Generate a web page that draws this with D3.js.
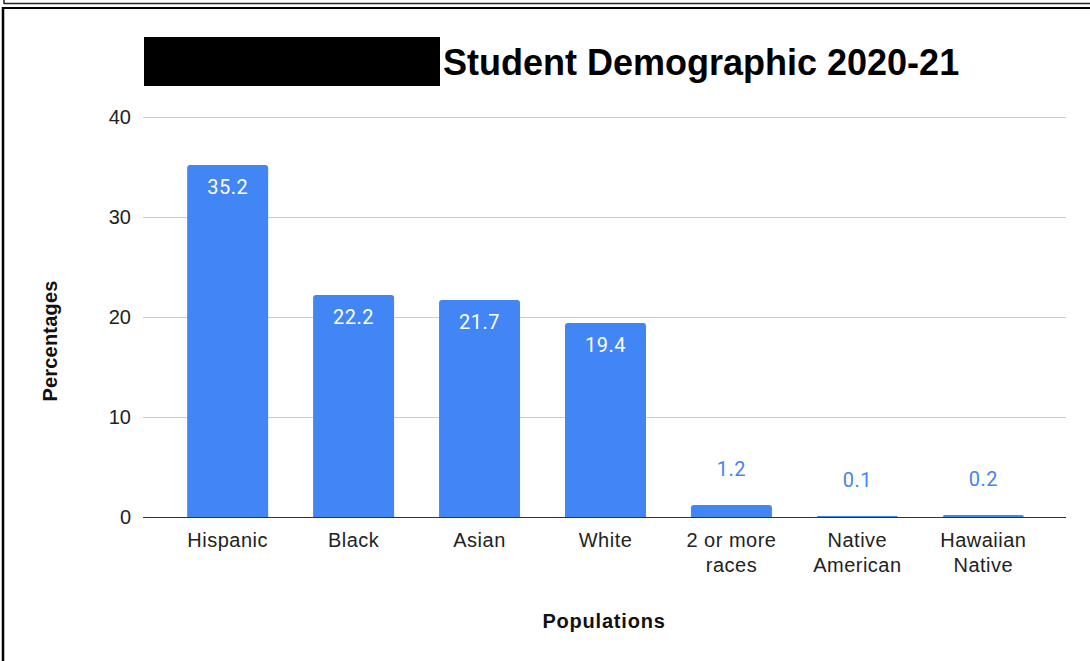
<!DOCTYPE html>
<html><head><meta charset="utf-8">
<script src="https://cdn.jsdelivr.net/npm/d3@7"></script>
<style>html,body{margin:0;padding:0;background:#fff;}svg{display:block;}</style>
</head><body>
<script>
const categories = [["Hispanic"],["Black"],["Asian"],["White"],["2 or more","races"],["Native","American"],["Hawaiian","Native"]];
const values = [35.2, 22.2, 21.7, 19.4, 1.2, 0.1, 0.2];
const yTicks = [0, 10, 20, 30, 40];
const titleText = "Student Demographic 2020-21";
const xTitle = "Populations";
const yTitle = "Percentages";

const W = 1090, H = 661;
const svg = d3.select("body").append("svg").attr("width", W).attr("height", H);
svg.append("rect").attr("width", W).attr("height", H).attr("fill", "#fff");

// frame lines
svg.append("line").attr("x1",4).attr("x2",W).attr("y1",3.5).attr("y2",3.5).attr("stroke","#222").attr("stroke-width",1.5);
svg.append("line").attr("x1",4).attr("x2",4).attr("y1",0).attr("y2",4).attr("stroke","#222").attr("stroke-width",1.5);
svg.append("line").attr("x1",2).attr("x2",W).attr("y1",8).attr("y2",8).attr("stroke","#000").attr("stroke-width",2);
svg.append("line").attr("x1",3).attr("x2",3).attr("y1",7).attr("y2",H).attr("stroke","#000").attr("stroke-width",2.5);

const sans = "'Liberation Sans', Arial, sans-serif";
const plotL = 143, plotR = 1066, plotT = 117, plotB = 517;
const x = d3.scaleBand().domain(categories.map((c,i)=>i)).range([164.5, 1046.5]).paddingInner(0.357).paddingOuter(0.18);
const y = d3.scaleLinear().domain([0, 40]).range([plotB, plotT]);

// gridlines
svg.append("g").selectAll("line").data(yTicks.filter(t=>t>0)).join("line")
  .attr("x1", plotL).attr("x2", plotR).attr("y1", d=>y(d)+0.5).attr("y2", d=>y(d)+0.5)
  .attr("stroke", "#cccccc").attr("stroke-width", 1);

// y axis tick labels
const yAxis = d3.axisLeft(y).tickValues(yTicks).tickSize(0).tickPadding(12);
const gy = svg.append("g").attr("transform", `translate(${plotL},0)`).call(yAxis);
gy.select(".domain").remove();
gy.selectAll("text").attr("font-family", sans).attr("font-size", 20).attr("fill","#222");

// bars with rounded top corners
function barPath(x0, w, yTop, yBot, r) {
  const h = yBot - yTop;
  r = Math.min(r, h, w/2);
  if (h <= 0) return "";
  return `M${x0},${yBot}V${yTop+r}Q${x0},${yTop} ${x0+r},${yTop}H${x0+w-r}Q${x0+w},${yTop} ${x0+w},${yTop+r}V${yBot}Z`;
}
const bw = x.bandwidth();
svg.append("g").selectAll("path").data(values).join("path")
  .attr("d", (d,i)=>barPath(x(i), bw, y(d), plotB, 3))
  .attr("fill", "#4285f4");

// data labels
svg.append("g").selectAll("text").data(values).join("text")
  .attr("x", (d,i)=>x(i)+bw/2)
  .attr("y", d => (y(0)-y(d) > 40) ? y(d)+29 : y(d)-29)
  .attr("text-anchor","middle")
  .attr("font-family","Roboto, Arial, sans-serif").attr("font-size", 20).attr("letter-spacing", 0.5)
  .attr("fill", d => (y(0)-y(d) > 40) ? "#ffffff" : "#4285f4")
  .text(d => d.toFixed(1));

// baseline
svg.append("line").attr("x1", plotL).attr("x2", plotR).attr("y1", plotB+0.5).attr("y2", plotB+0.5)
  .attr("stroke","#333").attr("stroke-width",1.2);

// x category labels
const xl = svg.append("g").selectAll("text").data(categories).join("text")
  .attr("x", (d,i)=>x(i)+bw/2).attr("y", 547)
  .attr("text-anchor","middle")
  .attr("font-family", sans).attr("font-size", 20).attr("letter-spacing", 0.5).attr("fill","#222");
xl.selectAll("tspan").data(d=>d).join("tspan")
  .attr("x", function(){ return this.parentNode.getAttribute("x"); })
  .attr("dy", (d,j)=> j===0 ? 0 : 25)
  .text(d=>d);

// axis titles
svg.append("text").attr("x", 604).attr("y", 628).attr("text-anchor","middle")
  .attr("font-family", sans).attr("font-weight","bold").attr("font-size", 20).attr("letter-spacing", 0.8).attr("fill","#111")
  .text(xTitle);
svg.append("text").attr("transform", "translate(57,341) rotate(-90)").attr("text-anchor","middle")
  .attr("font-family", sans).attr("font-weight","bold").attr("font-size", 20).attr("letter-spacing", 0.2).attr("fill","#111")
  .text(yTitle);

// title with redaction box
svg.append("rect").attr("x",144).attr("y",37).attr("width",296).attr("height",49).attr("fill","#000");
svg.append("text").attr("x", 443).attr("y", 75)
  .attr("font-family", sans).attr("font-weight","bold").attr("font-size", 36).attr("fill","#000")
  .text(titleText);
</script>
</body></html>
